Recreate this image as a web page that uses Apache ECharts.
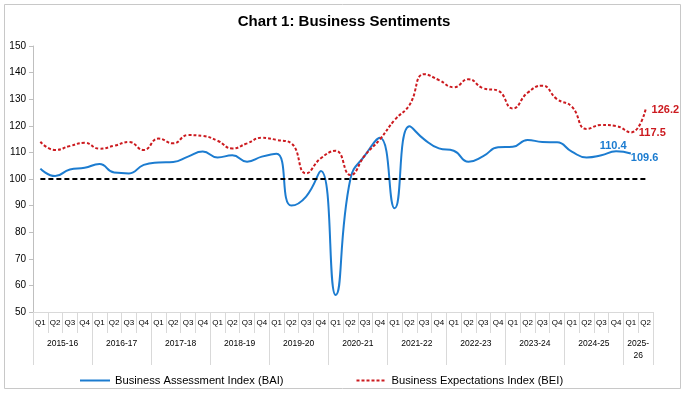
<!DOCTYPE html>
<html>
<head>
<meta charset="utf-8">
<script src="https://cdn.jsdelivr.net/npm/echarts@6/dist/echarts.min.js"></script>
<style>
html,body{margin:0;padding:0;background:#fff;}
#chart{width:688px;height:395px;}
</style>
</head>
<body>
<div id="chart"></div>
<script>
// ---- data ----
const years = ['2015-16','2016-17','2017-18','2018-19','2019-20','2020-21','2021-22','2022-23','2023-24','2024-25','2025-26'];
const yearLabels = ['2015-16','2016-17','2017-18','2018-19','2019-20','2020-21','2021-22','2022-23','2023-24','2024-25','2025-\n26'];
const quarters = ['Q1','Q2','Q3','Q4'];
const quartersInYear = [4,4,4,4,4,4,4,4,4,4,2];
const bai = [103.9,101.1,103.6,104.2,105.6,102.4,102.1,105.3,106.2,106.4,108.4,110.3,
             108.1,108.9,106.5,108.4,109.5,90.0,93.4,103.0,56.4,100.0,109.0,115.5,
             89.0,119.8,114.9,111.5,110.6,106.5,108.6,111.9,112.1,114.7,113.9,113.8,
             110.3,108.1,108.9,110.4,109.6,null];
const bei = [114.0,110.9,112.4,113.6,111.4,112.5,113.9,110.9,115.2,113.4,116.5,116.2,
             114.4,111.5,113.4,115.5,114.7,113.4,102.1,107.8,110.6,101.5,109.0,114.9,
             122.2,127.8,139.4,137.2,134.5,137.5,134.1,133.2,126.5,132.4,135.1,130.0,
             127.2,118.8,120.3,119.9,117.5,126.2];
const baseline = 100;
const yTicks = {min:50, max:150, interval:10};

// ---- build categories ----
const categories = [];
years.forEach((y, yi) => {
  for (let q = 0; q < quartersInYear[yi]; q++) categories.push(y + ' ' + quarters[q]);
});
const boundaries = [0];
const centers = [];
quartersInYear.forEach(n => {
  const start = boundaries[boundaries.length - 1];
  centers.push(start + n / 2);
  boundaries.push(start + n);
});

const BLUE = '#1c7cd0';
const RED = '#cc1a1f';
const FONT = 'Arial, "Liberation Sans", sans-serif';

// labelled points
const baiLabels = {39: {position:'top', distance:0, offset:[-3,0]}, 40: {position:'right', distance:0, offset:[0,5]}};
const beiLabels = {40: {position:'right', distance:8, offset:[0,1]}, 41: {position:'right', distance:6, offset:[0,1]}};

function buildData(arr, labels, color) {
  return arr.map((v, i) => {
    if (labels[i]) {
      return {
        value: v,
        label: Object.assign({show: true, color: color, fontWeight: 'bold', fontSize: 11, fontFamily: FONT,
          formatter: p => p.value.toFixed(1)}, labels[i])
      };
    }
    return v;
  });
}

const chart = echarts.init(document.getElementById('chart'), null, {renderer: 'canvas'});
chart.setOption({
  backgroundColor: '#ffffff',
  animation: false,
  title: {
    text: 'Chart 1: Business Sentiments',
    left: 'center', top: 9,
    textStyle: {fontFamily: FONT, fontSize: 15, fontWeight: 'bold', color: '#000'}
  },
  graphic: [{
    type: 'rect', shape: {x: 4.5, y: 4.5, width: 676, height: 384},
    style: {fill: 'none', stroke: '#c8c8c8', lineWidth: 1}, silent: true, z: -1
  }],
  legend: {
    data: ['Business Assessment Index (BAI)', 'Business Expectations Index (BEI)'],
    left: 74, top: 370, itemWidth: 30, itemHeight: 10, itemGap: 72,
    itemStyle: {opacity: 0},
    textStyle: {fontFamily: FONT, fontSize: 11.2, color: '#000'}
  },
  grid: {left: 33, right: 35, top: 46, bottom: 83, containLabel: false},
  xAxis: [{
    type: 'category', data: categories, boundaryGap: true, position: 'bottom',
    axisLine: {show: true, lineStyle: {color: '#d9d9d9', width: 1}},
    axisTick: {show: true, interval: 0, length: 21, lineStyle: {color: '#d9d9d9'}},
    axisLabel: {interval: 0, margin: 7, fontSize: 8, fontFamily: FONT, color: '#000',
      formatter: v => v.split(' ')[1]},
    splitLine: {show: false}
  }, {
    type: 'value', min: 0, max: categories.length, position: 'bottom',
    axisLine: {show: false},
    axisTick: {show: true, customValues: boundaries, length: 53, lineStyle: {color: '#d9d9d9'}},
    axisLabel: {customValues: centers, margin: 26, fontSize: 8.5, fontFamily: FONT, color: '#000', lineHeight: 12,
      formatter: v => yearLabels[centers.indexOf(v)] || ''},
    splitLine: {show: false}
  }],
  yAxis: {
    type: 'value', min: yTicks.min, max: yTicks.max, interval: yTicks.interval,
    axisLine: {show: true, lineStyle: {color: '#bfbfbf'}},
    axisTick: {show: true, length: 4, lineStyle: {color: '#bfbfbf'}},
    axisLabel: {fontSize: 10, fontFamily: FONT, color: '#000', margin: 7},
    splitLine: {show: false}
  },
  series: [{
    name: 'Business Assessment Index (BAI)', type: 'line', xAxisIndex: 0,
    data: buildData(bai, baiLabels, BLUE), smooth: 0.5, symbol: 'circle', symbolSize: 0, showSymbol: true,
    lineStyle: {color: BLUE, width: 2}, itemStyle: {color: BLUE}, z: 3
  }, {
    name: 'Business Expectations Index (BEI)', type: 'line', xAxisIndex: 0,
    data: buildData(bei, beiLabels, RED), smooth: 0.5, symbol: 'circle', symbolSize: 0, showSymbol: true,
    lineStyle: {color: RED, width: 2, type: [3, 2]}, itemStyle: {color: RED}, z: 4,
    markLine: {
      silent: true, symbol: ['none', 'none'], label: {show: false},
      lineStyle: {color: '#000', width: 1.8, type: [5, 3]},
      data: [[{coord: [categories[0], baseline]}, {coord: [categories[categories.length - 1], baseline]}]]
    }
  }]
});
</script>
</body>
</html>
